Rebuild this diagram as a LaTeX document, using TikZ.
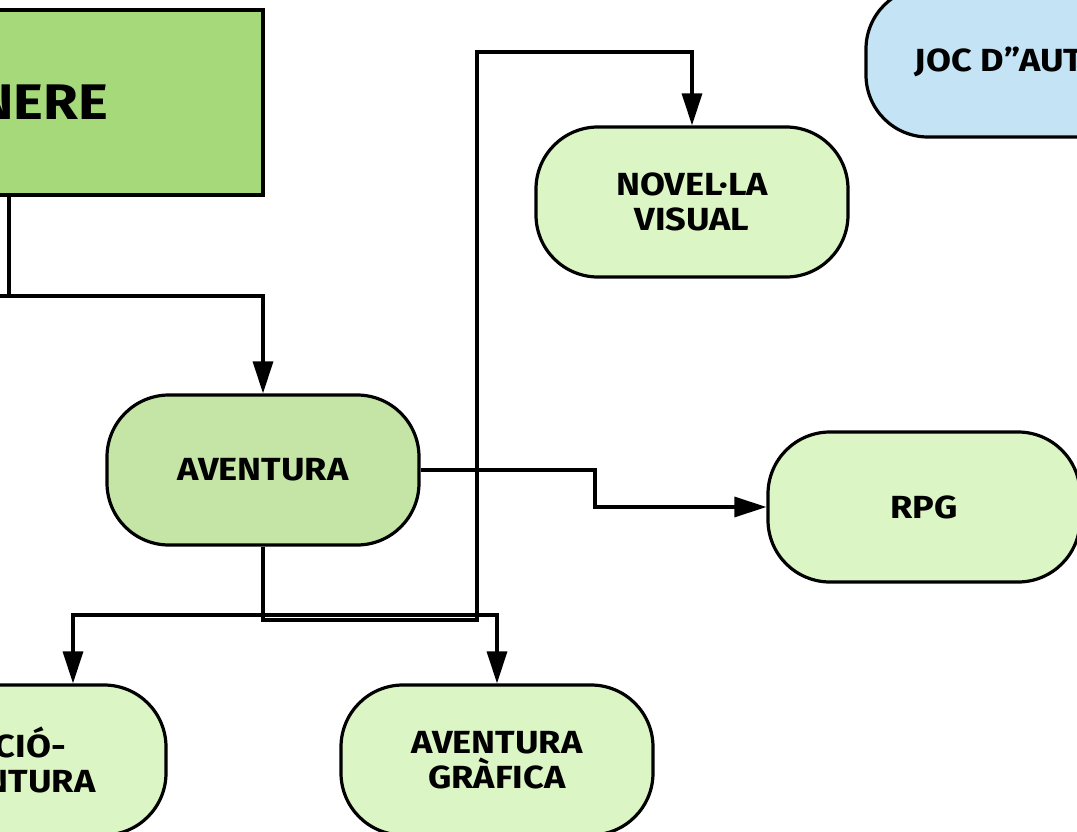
\documentclass[tikz,border=0pt]{standalone}
\usepackage{fontspec}
\setmainfont[FakeStretch=1.13]{Fira Sans}
\usetikzlibrary{arrows.meta}
\definecolor{cgen}{HTML}{A5D97A}
\definecolor{cave}{HTML}{C5E5A6}
\definecolor{cleaf}{HTML}{DCF5C5}
\definecolor{cblue}{HTML}{C4E3F5}
\tikzset{
  pill/.style={draw, fill=#1, rounded corners=62pt, minimum width=312pt, minimum height=150pt,
    align=center, inner sep=0pt, font=\bfseries\fontsize{32}{35}\selectfont},
  bigbox/.style={draw, fill=cgen, minimum width=508pt, minimum height=185pt, inner sep=0pt,
    font=\bfseries\fontsize{50}{55}\selectfont},
  conn/.style={line width=3.4pt, line join=miter},
  arr/.style={conn, -{Triangle[length=32pt,width=20pt]}}
}
\begin{document}
\begin{tikzpicture}[x=1pt,y=-1pt,line width=3.2pt]
\useasboundingbox (0,0) rectangle (1077,832);
\clip (0,0) rectangle (1077,832);
\fill[white] (0,0) rectangle (1077,832);

\node[bigbox] (genere) at (9,102.5) {\raisebox{13pt}{GÈNERE}};
\node[pill=cave] (aventura) at (263,470) {AVENTURA};
\node[pill=cleaf] (novel) at (692,202) {NOVEL·LA\\VISUAL};
\node[pill=cblue] (joc) at (1022,62) {\raisebox{4pt}{JOC D"AUTOR}};
\node[pill=cleaf] (rpg) at (924,507) {RPG};
\node[pill=cleaf] (accio) at (10,760) {ACCIÓ-\\AVENTURA};
\node[pill=cleaf] (grafica) at (497,760) {AVENTURA\\GRÀFICA};
\coordinate (busleft) at (-60,296);

\draw[conn] (genere.south) |- (busleft);
\draw[arr] (genere.south) |- (263,296) -- (aventura.north);
\draw[arr] (aventura.east) -- (595,470) -- (595,507) -- (rpg.west);
\draw[arr] (aventura.south) |- (73,615) -- ([xshift=63pt]accio.north);
\draw[arr] (aventura.south) |- (497,615) -- (grafica.north);
\draw[arr] (aventura.south) |- (477,620) -- (477,52) -| (novel.north);
\end{tikzpicture}
\end{document}
